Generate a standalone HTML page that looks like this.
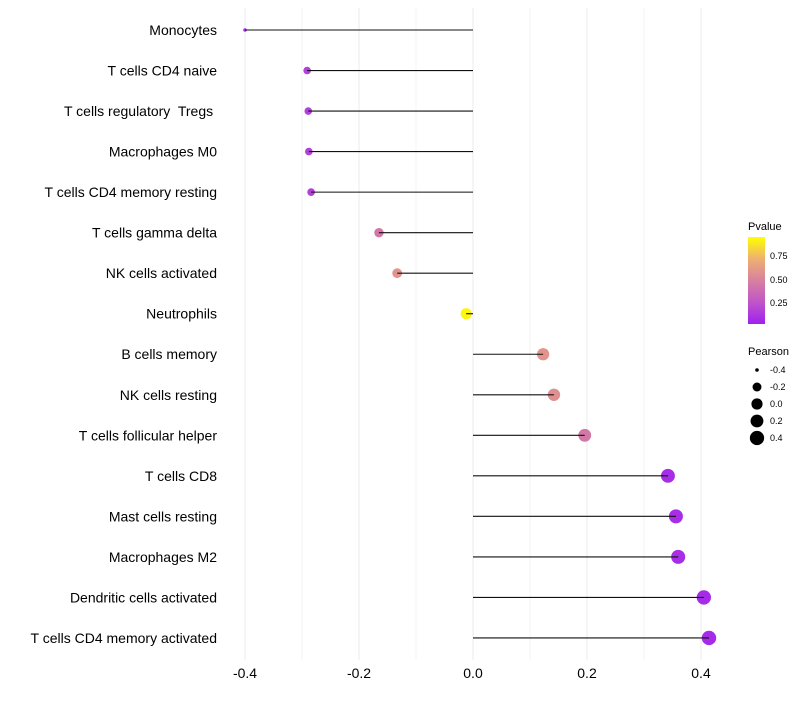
<!DOCTYPE html>
<html><head><meta charset="utf-8"><style>
body{margin:0;background:#fff;font-family:"Liberation Sans",sans-serif}
text{white-space:pre}
</style></head><body>
<svg id="chart" width="800" height="700" xmlns="http://www.w3.org/2000/svg" font-family="Liberation Sans, sans-serif">
<defs><linearGradient id="pg" x1="0" y1="1" x2="0" y2="0">
<stop offset="0" stop-color="#a020f0"/><stop offset="0.25" stop-color="#c055c8"/><stop offset="0.5" stop-color="#d8809f"/><stop offset="0.75" stop-color="#eeb070"/><stop offset="1" stop-color="#ffff00"/></linearGradient></defs>
<g id="grid"></g>
<g id="marks"></g>
<g id="labels"></g>
<g>
<text x="748" y="230" font-size="11">Pvalue</text>
<rect x="748" y="237" width="17" height="87" fill="url(#pg)"/>
<text x="770" y="259" font-size="9">0.75</text>
<text x="770" y="283" font-size="9">0.50</text>
<text x="770" y="306" font-size="9">0.25</text>
</g>
<g id="sizeleg">
<text x="748" y="355" font-size="11">Pearson</text>
</g>
</svg>
<script>
const categories=["Monocytes","T cells CD4 naive","T cells regulatory  Tregs ","Macrophages M0","T cells CD4 memory resting","T cells gamma delta","NK cells activated","Neutrophils","B cells memory","NK cells resting","T cells follicular helper","T cells CD8","Mast cells resting","Macrophages M2","Dendritic cells activated","T cells CD4 memory activated"];
const pearson=[-0.4,-0.291,-0.289,-0.288,-0.284,-0.165,-0.133,-0.012,0.123,0.142,0.196,0.342,0.356,0.360,0.405,0.414];
const pvalues=[0.08,0.15,0.15,0.15,0.15,0.45,0.6,0.97,0.6,0.58,0.45,0.06,0.06,0.06,0.05,0.05];
const xTicks=[-0.4,-0.2,0.0,0.2,0.4];
const xTickLabels=["-0.4","-0.2","0.0","0.2","0.4"];
const sizeBreaks=[-0.4,-0.2,0.0,0.2,0.4];
const ns="http://www.w3.org/2000/svg";
const X=v=>473+v*570;
const Y=i=>30+i*40.53;
const R=v=>Math.sqrt(Math.max(0,(v+0.4)/0.814))*5.4+1.8;
const stops=[[0,[160,32,240]],[0.25,[192,85,200]],[0.5,[216,128,159]],[0.75,[238,176,112]],[1,[255,255,0]]];
function col(p){for(let k=1;k<stops.length;k++){if(p<=stops[k][0]){const a=stops[k-1],b=stops[k],t=(p-a[0])/(b[0]-a[0]);return 'rgb('+a[1].map((c,j)=>Math.round(c+(b[1][j]-c)*t)).join(',')+')';}}return 'rgb(255,255,0)';}
function mk(t,a,parent){const e=document.createElementNS(ns,t);for(const k in a)e.setAttribute(k,a[k]);parent.appendChild(e);return e;}
const grid=document.getElementById('grid'),marks=document.getElementById('marks'),labels=document.getElementById('labels');
for(let v=-0.4;v<=0.4001;v+=0.1){const l=mk('line',{x1:X(v),x2:X(v),y1:8,y2:660,stroke:'#ebebeb','stroke-width':Math.abs(Math.round(v*10))%2==0?1:0.6},grid);

}
xTicks.forEach((v,i)=>{const t=mk('text',{x:X(v),y:678,'font-size':14,'text-anchor':'middle',fill:'#000'},labels);t.textContent=xTickLabels[i];

});
categories.forEach((c,i)=>{const t=mk('text',{x:217,y:Y(i)+5,'font-size':14,'text-anchor':'end',fill:'#000'},labels);t.textContent=c;


const p=mk('circle',{cx:X(pearson[i]),cy:Y(i),r:R(pearson[i]),fill:col(pvalues[i])},marks);


const s=mk('line',{x1:X(0),x2:X(pearson[i]),y1:Y(i),y2:Y(i),stroke:'#111','stroke-width':1.1},marks);

});
const sl=document.getElementById('sizeleg');
sizeBreaks.forEach((v,i)=>{const y=370+i*17;const c=mk('circle',{cx:757,cy:y,r:R(v),fill:'#000'},sl);


const t=mk('text',{x:770,y:y+3,'font-size':9},sl);t.textContent=v.toFixed(1);

});
</script>
</body></html>
